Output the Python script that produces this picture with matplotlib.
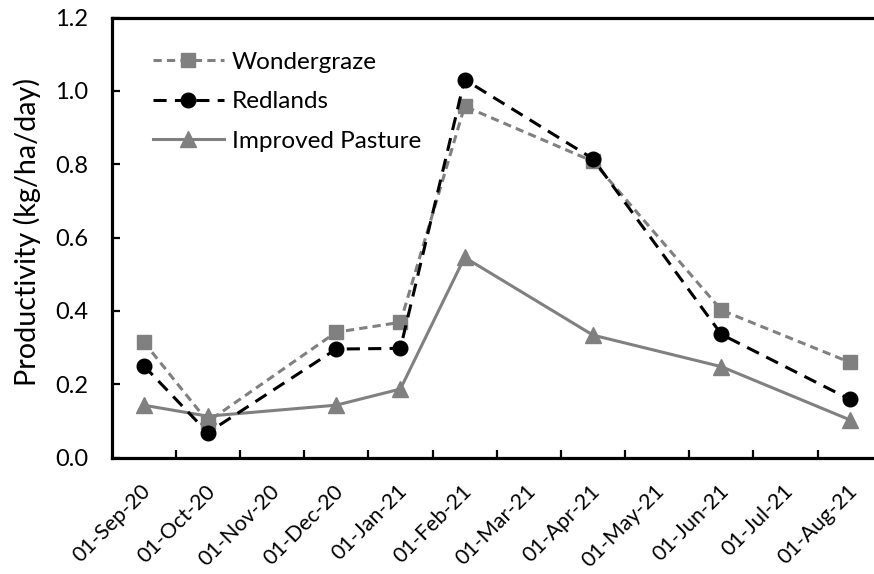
import matplotlib
matplotlib.use("Agg")
import matplotlib.pyplot as plt
import matplotlib.transforms as mtransforms

# Monthly category labels on the x axis
month_labels = ["01-Sep-20", "01-Oct-20", "01-Nov-20", "01-Dec-20", "01-Jan-21",
                "01-Feb-21", "01-Mar-21", "01-Apr-21", "01-May-21", "01-Jun-21",
                "01-Jul-21", "01-Aug-21"]

# Sampling months
sample_months = ["01-Sep-20", "01-Oct-20", "01-Dec-20", "01-Jan-21",
                 "01-Feb-21", "01-Apr-21", "01-Jun-21", "01-Aug-21"]

# Productivity (kg/ha/day)
wondergraze = [0.316, 0.098, 0.342, 0.369, 0.958, 0.808, 0.402, 0.260]
redlands = [0.251, 0.068, 0.296, 0.298, 1.031, 0.815, 0.336, 0.159]
improved_pasture = [0.143, 0.113, 0.143, 0.187, 0.546, 0.334, 0.248, 0.103]

y_ticks = [0.0, 0.2, 0.4, 0.6, 0.8, 1.0, 1.2]

plt.rcParams["font.family"] = ["Lato", "DejaVu Sans"]

fig = plt.figure(figsize=(8.74, 5.74), dpi=100)
ax = fig.add_axes([111.5 / 874, 1 - 457.6 / 574, 770.4 / 874, 440.0 / 574])

x = [month_labels.index(m) for m in sample_months]

grey = "#808080"
ax.plot(x, wondergraze, color=grey, lw=2.2, ls=(0, (2.7, 1.7)),
        marker="s", ms=10, mfc=grey, mec=grey, label="Wondergraze", zorder=3)
ax.plot(x, redlands, color="black", lw=2.2, ls=(0, (4.3, 2.7)),
        marker="o", ms=10.5, mfc="black", mec="black", label="Redlands", zorder=4)
ax.plot(x, improved_pasture, color=grey, lw=2.2, ls="-",
        marker="^", ms=11, mfc=grey, mec=grey, label="Improved Pasture", zorder=2)

ax.set_xlim(-0.5, len(month_labels) - 0.5)
ax.set_ylim(0, 1.2)

# Boundary tick marks between months, labels centred in each month slot
ax.set_xticks([i + 0.5 for i in range(len(month_labels))])
ax.set_xticklabels([])
ax.set_xticks(range(len(month_labels)), minor=True)
ax.set_xticklabels(month_labels, minor=True, rotation=45, ha="right", va="top",
                   rotation_mode="anchor", fontsize=15.5)
ax.tick_params(axis="x", which="major", direction="in", length=5.5, width=1.6)
ax.tick_params(axis="x", which="minor", length=0, pad=17)
shift = mtransforms.ScaledTranslation(-3 / 100, 0, fig.dpi_scale_trans)
for lab in ax.get_xticklabels(minor=True):
    lab.set_transform(lab.get_transform() + shift)

ax.set_yticks(y_ticks)
ax.set_yticklabels([f"{v:.1f}" for v in y_ticks], fontsize=17)
ax.tick_params(axis="y", direction="in", length=5.5, width=1.6, pad=17)

for side in ["left", "bottom", "top", "right"]:
    ax.spines[side].set_linewidth(2.3)

ax.set_ylabel("Productivity (kg/ha/day)", fontsize=20.7)
ax.yaxis.set_label_coords(-0.0915, 0.5116)

leg = ax.legend(loc="upper left", bbox_to_anchor=(0.054, 0.922), frameon=False,
                fontsize=17.5, handlelength=2.9, handletextpad=0.33,
                labelspacing=0.757, borderpad=0, borderaxespad=0)

fig.savefig("out.png", dpi=100)
